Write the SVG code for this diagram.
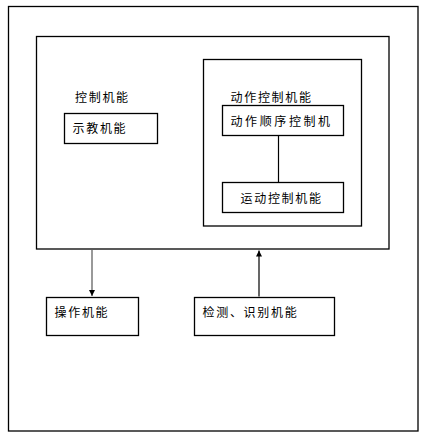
<svg xmlns="http://www.w3.org/2000/svg" width="439" height="435" viewBox="0 0 439 435">
<defs>
<style>
rect{fill:none;stroke:#000;stroke-width:1.3}
text{font-family:"Noto Sans CJK SC","Noto Sans CJK JP",sans-serif;font-size:12px;fill:#000;dominant-baseline:central;letter-spacing:1.7px}
.ln{stroke:#000;stroke-width:1.2;fill:none}
</style>
<marker id="ah" viewBox="0 0 6 6" refX="6" refY="3" markerWidth="6" markerHeight="6" markerUnits="userSpaceOnUse" orient="auto">
<path d="M0,0 L6,3 L0,6 Z" fill="#000"/>
</marker>
</defs>
<rect width="439" height="435" fill="#fff" style="fill:#fff;stroke:none"/>
<g id="outer"><rect x="8.5" y="6.5" width="409.5" height="424.5"/></g>
<g id="control"><rect x="36.5" y="36.5" width="352.5" height="212.5"/><text x="75" y="96.5">控制机能</text></g>
<g id="teach"><rect x="64.5" y="113.5" width="93" height="30"/><text x="72.5" y="127.5">示教机能</text></g>
<g id="action"><rect x="203.5" y="59.5" width="158" height="166.5"/><text x="230.5" y="96.5">动作控制机能</text></g>
<g id="seq"><rect x="222.5" y="105.5" width="121" height="30"/><text x="230.5" y="120.5" style="letter-spacing:2.6px">动作顺序控制机</text></g>
<g id="motion"><rect x="222.5" y="182.5" width="121" height="30"/><text x="240.5" y="197">运动控制机能</text></g>
<g id="operate"><rect x="46.5" y="297.5" width="92" height="38"/><text x="54.5" y="311.5">操作机能</text></g>
<g id="detect"><rect x="194.5" y="297.5" width="140" height="38"/><text x="202.5" y="311.5">检测、识别机能</text></g>
<g id="connectors">
<line class="ln" x1="278.5" y1="135.5" x2="278.5" y2="182.5"/>
<line class="ln" x1="92" y1="250" x2="92" y2="296" stroke="#555" style="stroke:#555" marker-end="url(#ah)"/>
<line class="ln" x1="259" y1="296.5" x2="259" y2="250.5" marker-end="url(#ah)"/>
</g>
</svg>
